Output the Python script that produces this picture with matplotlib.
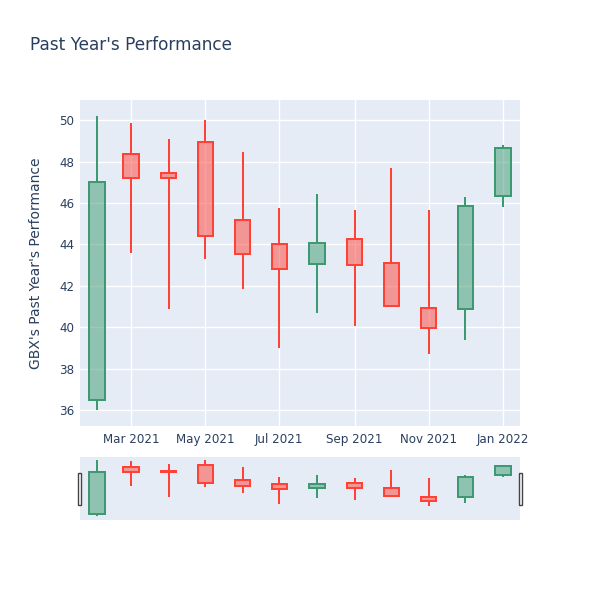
import matplotlib
matplotlib.use("Agg")
import matplotlib.pyplot as plt
import matplotlib.dates as mdates
from matplotlib.patches import Rectangle
import datetime as dt

dates = ["2021-02-01", "2021-03-01", "2021-04-01", "2021-05-01", "2021-06-01", "2021-07-01",
         "2021-08-01", "2021-09-01", "2021-10-01", "2021-11-01", "2021-12-01", "2022-01-01"]
opens  = [36.5, 48.35, 47.45, 48.95, 45.2, 44.0, 43.05, 44.25, 43.1, 40.95, 40.9, 46.35]
highs  = [50.2, 49.85, 49.1, 50.0, 48.45, 45.75, 46.45, 45.65, 47.7, 45.65, 46.3, 48.8]
lows   = [36.0, 43.6, 40.9, 43.3, 41.85, 39.0, 40.7, 40.05, 41.0, 38.7, 39.4, 45.8]
closes = [47.0, 47.2, 47.2, 44.4, 43.55, 42.8, 44.05, 43.0, 41.0, 39.95, 45.85, 48.65]

xtick_dates = ["2021-03-01", "2021-05-01", "2021-07-01", "2021-09-01", "2021-11-01", "2022-01-01"]
xtick_labels = ["Mar 2021", "May 2021", "Jul 2021", "Sep 2021", "Nov 2021", "Jan 2022"]
yticks = [36, 38, 40, 42, 44, 46, 48, 50]

INC = "#3D9970"
DEC = "#FF4136"
BG = "#E5ECF6"
TXT = "#2a3f5f"

def d2n(s):
    return mdates.date2num(dt.datetime.strptime(s, "%Y-%m-%d"))

xs = [d2n(d) for d in dates]
xlim = (d2n("2021-01-18"), d2n("2022-01-15"))
ylim = (35.23, 50.97)

fig = plt.figure(figsize=(6, 6), dpi=100)
W, H = 600, 600
ax = fig.add_axes([80 / W, (H - 426) / H, 440 / W, 326 / H])
sl = fig.add_axes([80 / W, (H - 519.5) / H, 440 / W, 63 / H])

def draw(a, lw_px, width_days):
    lw = lw_px * 0.72
    for x, o, h, l, c in zip(xs, opens, highs, lows, closes):
        col = INC if c >= o else DEC
        top, bot = max(o, c), min(o, c)
        a.plot([x, x], [top, h], color=col, lw=lw, solid_capstyle="butt", zorder=3)
        a.plot([x, x], [l, bot], color=col, lw=lw, solid_capstyle="butt", zorder=3)
        a.add_patch(Rectangle((x - width_days / 2, bot), width_days, top - bot,
                              facecolor=matplotlib.colors.to_rgba(col, 0.5),
                              edgecolor=col, lw=lw, zorder=4))
    a.set_xlim(*xlim)
    a.set_ylim(*ylim)
    a.set_facecolor(BG)
    for s in a.spines.values():
        s.set_visible(False)

draw(ax, 2, 12.5)
draw(sl, 2, 12.5)

ax.set_xticks([d2n(d) for d in xtick_dates])
ax.set_xticklabels(xtick_labels)
ax.set_yticks(yticks)
ax.set_yticklabels([str(v) for v in yticks])
ax.tick_params(axis="both", length=0, colors=TXT, labelsize=8.6)
ax.tick_params(axis="x", pad=5)
ax.tick_params(axis="y", pad=4)
ax.grid(True, color="white", lw=1.0)
ax.set_axisbelow(True)
ax.set_ylabel("GBX's Past Year's Performance", color=TXT, fontsize=10, labelpad=11.5)

sl.set_xticks([])
sl.set_yticks([])

for x0 in (77.5, 518.5):
    fig.add_artist(Rectangle((x0 / W, (H - 505) / H), 3.5 / W, 32 / H,
                             transform=fig.transFigure, facecolor="white",
                             edgecolor="#444444", lw=1.0, zorder=10))

fig.text(30 / W, (H - 44.5) / H, "Past Year's Performance", color=TXT, fontsize=12.2,
         va="center", ha="left")

fig.savefig("out.png", dpi=100)
